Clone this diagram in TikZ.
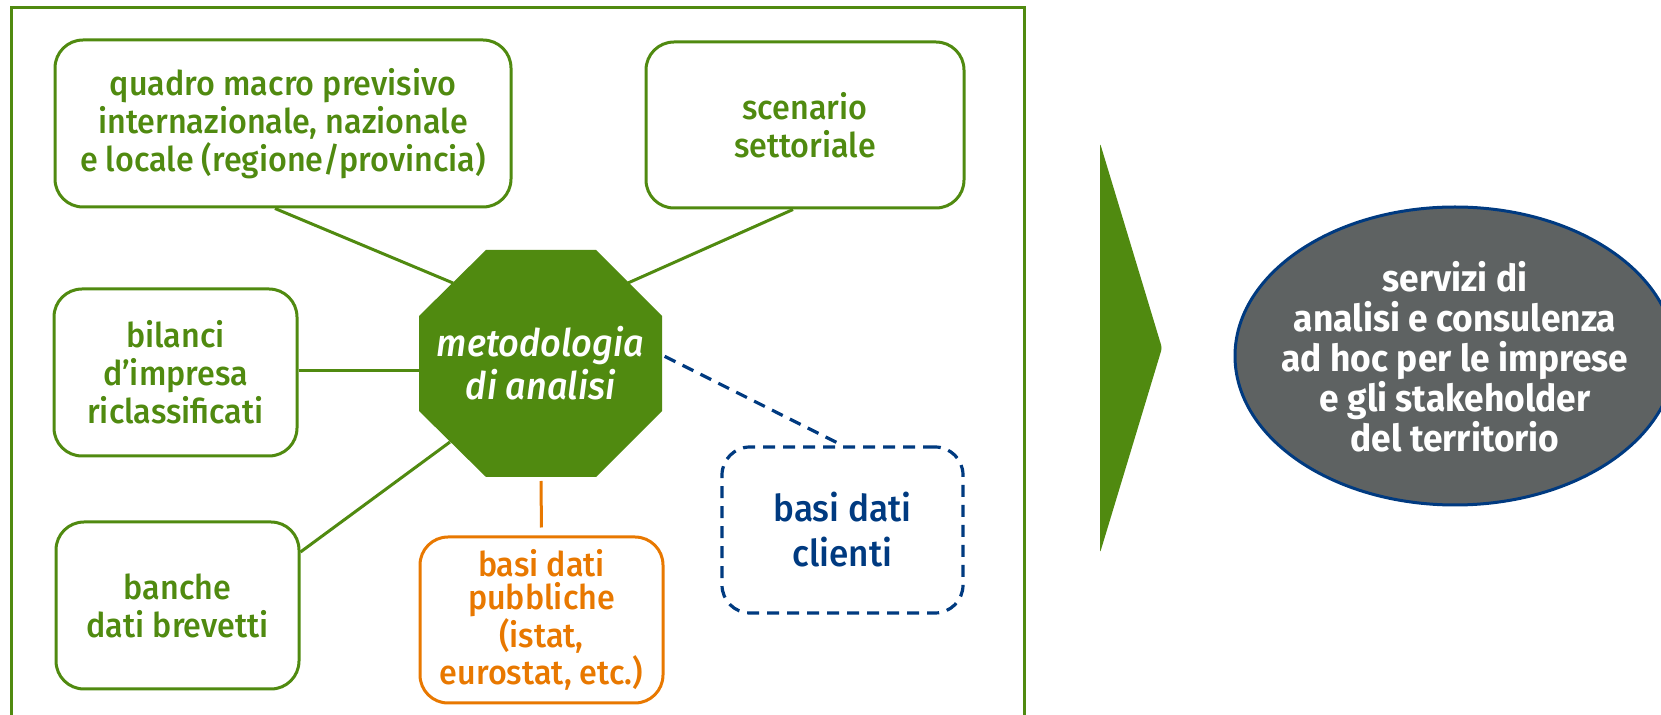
\documentclass[tikz,border=0pt]{standalone}
\usepackage{fontspec}
\setmainfont{Fira Sans}[UprightFont={* Medium}, ItalicFont={* Medium Italic}, BoldFont={* Bold}, FakeStretch=0.95]
\usetikzlibrary{calc}
\definecolor{gr}{RGB}{80,138,16}
\definecolor{og}{RGB}{232,120,0}
\definecolor{bl}{RGB}{0,58,128}
\definecolor{gy}{RGB}{94,98,98}
\begin{document}
\begin{tikzpicture}[x=0.5pt,y=-0.5pt,
  box/.style={draw=gr, line width=1.5pt, rounded corners=14pt, inner sep=0pt,
    align=center, text=gr, font=\fontsize{17pt}{19pt}\selectfont},
  link/.style={draw=gr, line width=1.5pt},
  obox/.style={box, draw=og, text=og, font=\fontsize{17pt}{16.5pt}\selectfont},
  bbox/.style={box, draw=bl, text=bl, line width=1.6pt, dash pattern=on 6pt off 4pt,
    font=\fontsize{18.5pt}{22.5pt}\selectfont},
]
\useasboundingbox (0,0) rectangle (1661,715);
\clip (0,0) rectangle (1661,715);
% frame
\draw[gr, line width=1.5pt] (11,730) -- (11,8) -- (1024,8) -- (1024,730);
% boxes
\node[box, minimum width=228pt, minimum height=83.5pt] (box1) at (283,123.5)
  {quadro macro previsivo\\internazionale, nazionale\\e locale (regione/provincia)};
\node[box, minimum width=159pt, minimum height=83pt] (box2) at (805,125)
  {scenario\\settoriale};
\node[box, minimum width=121.5pt, minimum height=83.5pt] (box3) at (175.5,372.5)
  {bilanci\\d’impresa\\riclassificati};
\node[box, minimum width=121.5pt, minimum height=83.5pt] (box4) at (177.5,605.5)
  {banche\\dati brevetti};
\node[obox, minimum width=121.5pt, minimum height=83pt] (box5) at (541.5,620)
  {basi dati\\pubbliche\\(istat,\\eurostat, etc.)};
\node[bbox, minimum width=120.5pt, minimum height=83pt] (box6) at (842.5,530)
  {basi dati\\clienti};
% octagon attach points
\coordinate (o1) at (453,283);
\coordinate (o2) at (628,283);
\coordinate (o3) at (419,371);
\coordinate (o4) at (450,442);
\coordinate (o5) at (541,477);
\coordinate (o6) at (662,355);
% connectors
\draw[link] ($(box1.south)+(-8,0)$) -- (o1);
\draw[link] ($(box2.south)+(-12,0)$) -- (o2);
\draw[link] (box3.east |- o3) -- (o3);
\draw[link] ($(box4.east)+(0,-53.5)$) -- (o4);
\draw[og, line width=1.5pt, shorten <=2pt, shorten >=4pt] (o5) -- (box5.north);
\draw[bl, line width=1.6pt, dash pattern=on 6pt off 4pt, shorten <=1.5pt] (o6) -- (box6.north);
% octagon
\fill[gr] (486,250) -- (596,250) -- (662,316) -- (662,411) -- (596,477)
  -- (486,477) -- (419,411) -- (419,316) -- cycle;
\node[text=white, align=center, font=\itshape\fontsize{19pt}{21.5pt}\selectfont]
  (oct) at (540.5,363.5) {metodologia\\di analisi};
% arrow
\fill[gr, rounded corners=1.5pt] (1100,143) -- (1162,348) -- (1100,553) -- cycle;
% ellipse
\draw[fill=gy, draw=bl, line width=1.5pt] (1455,356) ellipse [x radius=220, y radius=149];
\node[text=white, align=center, font=\bfseries\fontsize{18.6pt}{20pt}\selectfont]
  (svc) at (1455,357) {servizi di\\analisi e consulenza\\ad hoc per le imprese\\e gli stakeholder\\del territorio};
\end{tikzpicture}
\end{document}
